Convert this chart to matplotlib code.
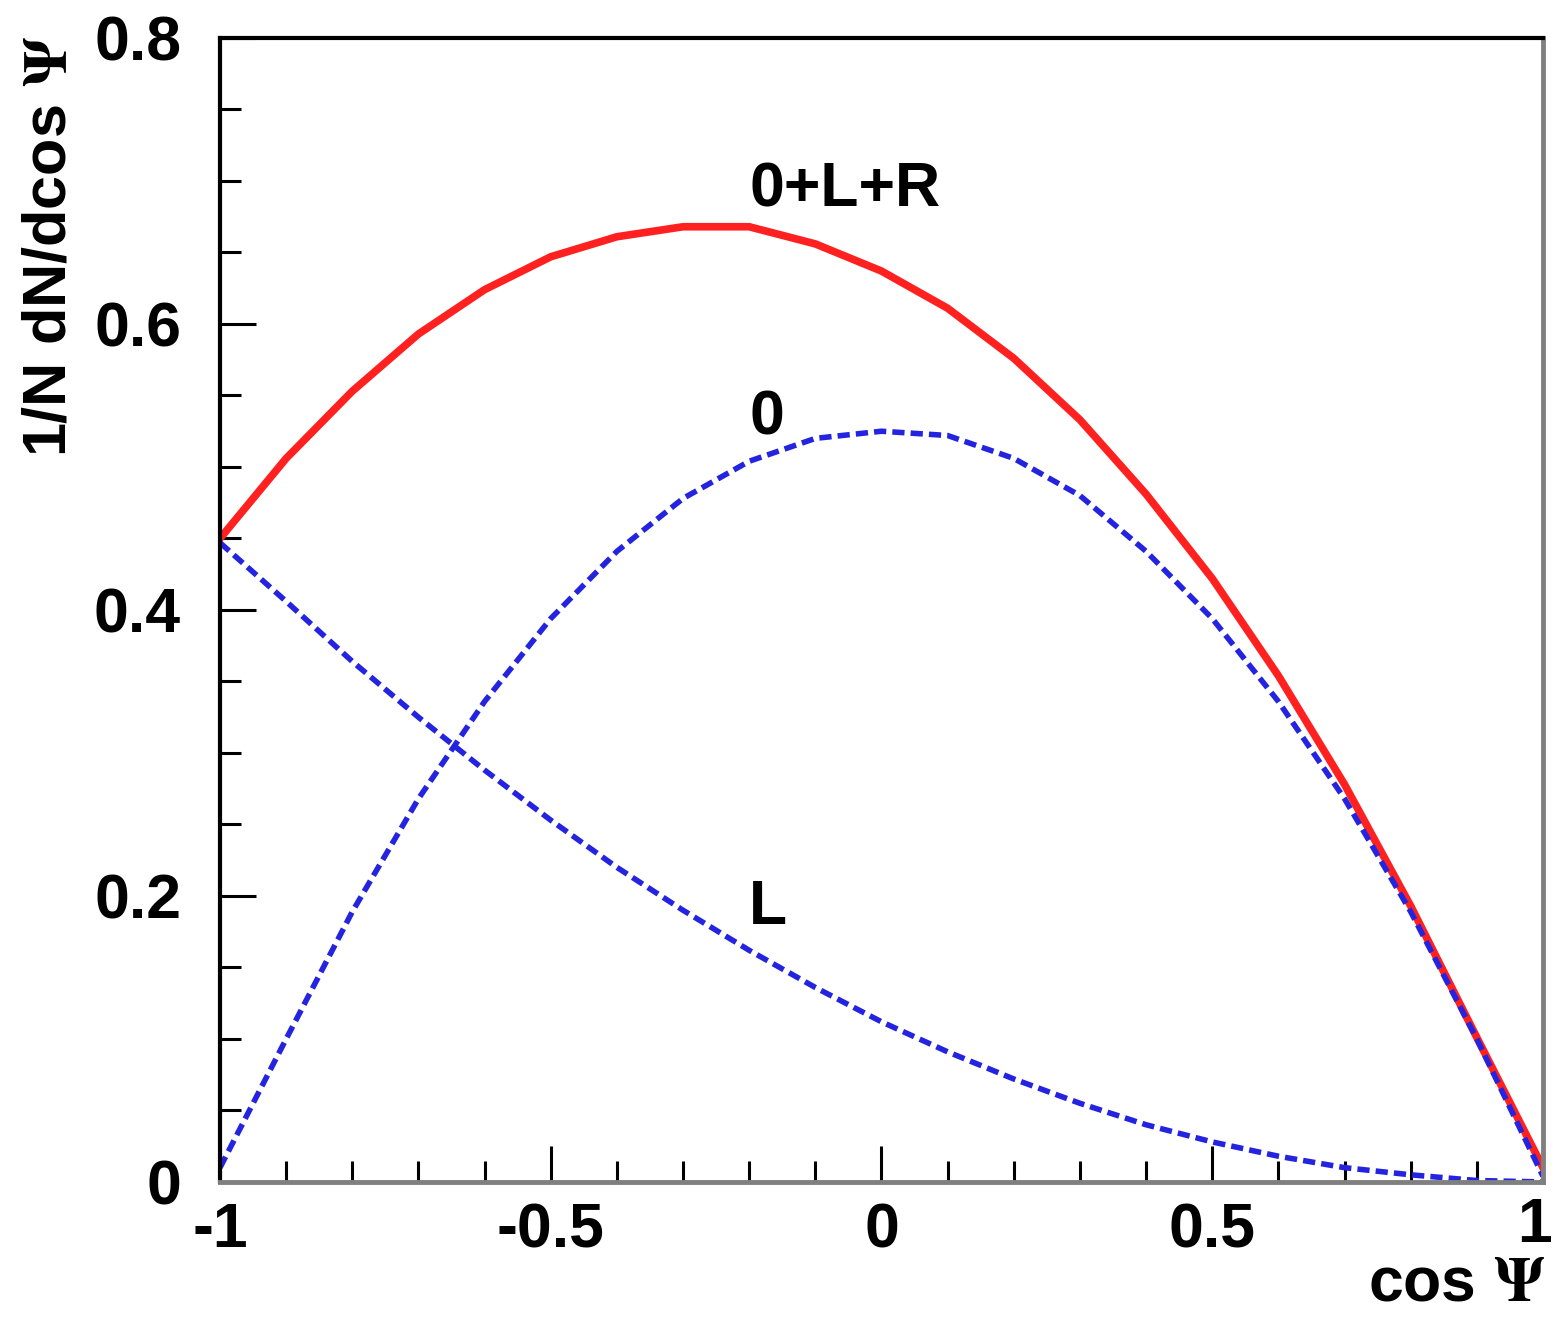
import matplotlib.pyplot as plt
from matplotlib.ticker import MultipleLocator

plt.rcParams['font.family'] = ['Liberation Sans', 'DejaVu Sans']
plt.rcParams['font.weight'] = 'bold'
plt.rcParams['mathtext.fontset'] = 'stix'

cos_psi = [-1.0, -0.9, -0.8, -0.7, -0.6, -0.5, -0.4, -0.3, -0.2, -0.1, 0.0,
           0.1, 0.2, 0.3, 0.4, 0.5, 0.6, 0.7, 0.8, 0.9, 1.0]
total = [0.450, 0.506, 0.553, 0.593, 0.624, 0.647, 0.661, 0.668, 0.668, 0.656, 0.637,
         0.611, 0.576, 0.533, 0.481, 0.422, 0.354, 0.278, 0.193, 0.101, 0.010]
zero = [0.010, 0.100, 0.189, 0.268, 0.336, 0.394, 0.441, 0.478, 0.504, 0.520, 0.525,
        0.522, 0.506, 0.480, 0.441, 0.394, 0.336, 0.268, 0.189, 0.100, 0.004]
left = [0.447, 0.406, 0.364, 0.325, 0.288, 0.253, 0.220, 0.190, 0.162, 0.136, 0.112,
        0.091, 0.072, 0.055, 0.040, 0.028, 0.018, 0.010, 0.005, 0.001, 0.000]
xtick_vals = [-1, -0.5, 0, 0.5, 1]
xtick_labels = ['-1', '-0.5', '0', '0.5', '1']

fig = plt.figure(figsize=(15.57, 13.19), dpi=100)
ax = fig.add_axes([0.1413, 0.1039, 0.8497, 0.8673])

ax.plot(cos_psi, total, color='#ff2020', lw=5.5)
ax.plot(cos_psi, zero, color='#2424e0', lw=4, dashes=(2.2, 1.1))
ax.plot(cos_psi, left, color='#2424e0', lw=4, dashes=(2.2, 1.1))

ax.text(-0.2, 0.694, '0+L+R', fontsize=45, fontweight='bold', va='center')
ax.text(-0.2, 0.534, '0', fontsize=45, fontweight='bold', va='center')
ax.text(-0.2, 0.192, 'L', fontsize=45, fontweight='bold', va='center')

ax.set_xlim(-1, 1)
ax.set_ylim(0, 0.8)
# last label ("1") is drawn separately, a little left, so it stays in the figure
ax.set_xticks(xtick_vals, labels=xtick_labels[:-1] + [''])
ax.xaxis.set_minor_locator(MultipleLocator(0.1))
ax.yaxis.set_major_locator(MultipleLocator(0.2))
ax.yaxis.set_minor_locator(MultipleLocator(0.05))
ax.yaxis.set_major_formatter(lambda v, p: '%g' % v)
ax.annotate(xtick_labels[-1], xy=(xtick_vals[-1], 0), xycoords=('data', 'axes fraction'),
            xytext=(-6, -10), textcoords='offset points', fontsize=45, fontweight='bold',
            ha='center', va='top', annotation_clip=False)

ax.tick_params(which='both', direction='in', top=False, right=False, width=2.2)
ax.tick_params(which='major', length=26, labelsize=45)
ax.tick_params(which='minor', length=15)
ax.tick_params(axis='x', pad=14)
ax.tick_params(axis='y', pad=28)

for side in ['top', 'left']:
    ax.spines[side].set_linewidth(3)
    ax.spines[side].set_color('black')
for side in ['bottom', 'right']:
    ax.spines[side].set_linewidth(3.5)
    ax.spines[side].set_color('#808080')

fig.text(0.992, 0.004, r'cos $\Psi$', fontsize=45, fontweight='bold', ha='right', va='bottom')
fig.text(0.032, 0.973, r'1/N dN/dcos $\Psi$', fontsize=44, fontweight='bold',
         rotation=90, ha='center', va='top')

fig.savefig('out.png', dpi=100)
